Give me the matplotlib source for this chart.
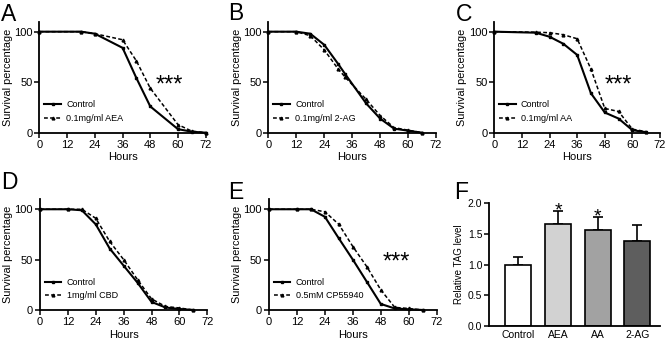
import matplotlib
matplotlib.use("Agg")
from matplotlib import pyplot as plt

plt.rcParams['font.family'] = ['Liberation Sans', 'DejaVu Sans']

# panel A
a_hours = [0, 18, 24, 36, 42, 48, 60, 66, 72]
a_control = [100, 100, 98, 84, 54, 26, 3.5, 1, 0]
a_treat = [100, 100, 98, 92, 71, 44, 8, 1.5, 0]

# panel B
b_hours = [0, 12, 18, 24, 30, 33, 42, 48, 54, 60, 66]
b_control = [100, 100, 98, 87, 68, 58, 29, 14, 4, 2, 0]
b_treat = [100, 100, 96, 82, 63, 55, 33, 17, 5, 2.5, 0]

# panel C
c_hours = [0, 18, 24, 30, 36, 42, 48, 54, 60, 66]
c_control = [100, 99, 95, 88, 77, 39, 20, 14, 2.5, 0.5]
c_treat = [100, 99.5, 99, 97, 93, 63, 24, 21, 3.5, 1]

# panel D
d_hours = [0, 12, 18, 24, 30, 36, 42, 48, 54, 60, 66]
d_control = [100, 100, 99, 85, 61, 44, 27, 8, 2.5, 1, 0]
d_treat = [100, 100, 100, 91, 68, 50, 30, 11, 3.5, 2, 0]

# panel E
e_hours = [0, 12, 18, 24, 30, 36, 42, 48, 54, 60, 66]
e_control = [100, 100, 100, 92.5, 71, 50, 28, 6, 1.5, 0.7, 0]
e_treat = [100, 100, 100, 97.5, 85, 63, 43, 20, 2.6, 1.5, 0]

# panel F
f_groups = ['Control', 'AEA', 'AA', '2-AG']
f_values = [0.99, 1.67, 1.565, 1.386]
f_errors = [0.13, 0.205, 0.205, 0.26]
f_colors = ['white', '#d2d2d2', '#a2a2a2', '#5e5e5e']
f_stars = ['', '*', '*', '']

panels = [
    ('A', a_hours, a_control, a_treat, '0.1mg/ml AEA', True, [0.0591, 0.612, 0.2488, 0.3249]),
    ('B', b_hours, b_control, b_treat, '0.1mg/ml 2-AG', False, [0.4017, 0.612, 0.2510, 0.3249]),
    ('C', c_hours, c_control, c_treat, '0.1mg/ml AA', True, [0.7400, 0.612, 0.2480, 0.3249]),
    ('D', d_hours, d_control, d_treat, '1mg/ml CBD', False, [0.0599, 0.0936, 0.2504, 0.324]),
    ('E', e_hours, e_control, e_treat, '0.5mM CP55940', True, [0.4027, 0.0936, 0.2510, 0.324]),
]
star_pos = {'A': 56.3, 'C': 54.0, 'E': 54.8}

fig = plt.figure(figsize=(6.68, 3.42), dpi=100)


def style_axes(ax):
    for s in ['top', 'right']:
        ax.spines[s].set_visible(False)
    for s in ['left', 'bottom']:
        ax.spines[s].set_linewidth(1.3)
    ax.tick_params(width=1.1, length=3.5, labelsize=8, pad=1.5)


for name, hours, control, treat, label, star, rect in panels:
    ax = fig.add_axes(rect)
    style_axes(ax)
    ax.plot(hours, control, '-', color='black', lw=1.5, marker='s', ms=1.6,
            label='Control', clip_on=False, zorder=3)
    ax.plot(hours, treat, '--', color='black', lw=1.1, dashes=(2.5, 1.5),
            marker='^', ms=2.0, label=label, clip_on=False, zorder=3)
    ax.set_xlim(0, 72)
    ax.set_ylim(0, 110)
    ax.set_xticks(range(0, 73, 12))
    ax.set_yticks([0, 50, 100])
    ax.set_xlabel('Hours', fontsize=8, labelpad=2)
    ax.set_ylabel('Survival percentage', fontsize=7.8, labelpad=1)
    ax.legend(loc='center left', bbox_to_anchor=(0.03, 0.19), frameon=False,
              fontsize=6.5, handlelength=1.8, handletextpad=0.6,
              labelspacing=0.5, borderpad=0, borderaxespad=0)
    if star:
        ax.text(star_pos[name], 47, '***', fontsize=17, ha='center', va='center')

# panel F
axf = fig.add_axes([0.7325, 0.0468, 0.2555, 0.3588])
style_axes(axf)
xpos = range(len(f_groups))
axf.bar(xpos, f_values, width=0.66, color=f_colors, edgecolor='black',
        linewidth=1.2, zorder=2)
axf.errorbar(xpos, f_values, yerr=[[0] * len(f_errors), f_errors], fmt='none',
             ecolor='black', elinewidth=1.2, capsize=3.5, capthick=1.2, zorder=1)
for x, v, e, s in zip(xpos, f_values, f_errors, f_stars):
    if s:
        axf.text(x, v + e + 0.0, s, fontsize=14, ha='center', va='center')
axf.set_xlim(-0.73, 3.57)
axf.set_ylim(0, 2.0)
axf.set_yticks([0, 0.5, 1.0, 1.5, 2.0])
axf.set_yticklabels(['0.0', '0.5', '1.0', '1.5', '2.0'], fontsize=7.5)
axf.set_xticks(list(xpos))
axf.set_xticklabels(f_groups, fontsize=7.5)
axf.tick_params(axis='x', length=0, pad=3)
axf.set_ylabel('Relative TAG level', fontsize=7, labelpad=3)

# panel letters
for letter, x, y in [('A', 0.002, 0.99), ('B', 0.342, 0.995), ('C', 0.683, 0.99),
                     ('D', 0.002, 0.5), ('E', 0.342, 0.47), ('F', 0.680, 0.47)]:
    fig.text(x, y, letter, fontsize=16.5, ha='left', va='top')

fig.savefig('out.png', dpi=100)
